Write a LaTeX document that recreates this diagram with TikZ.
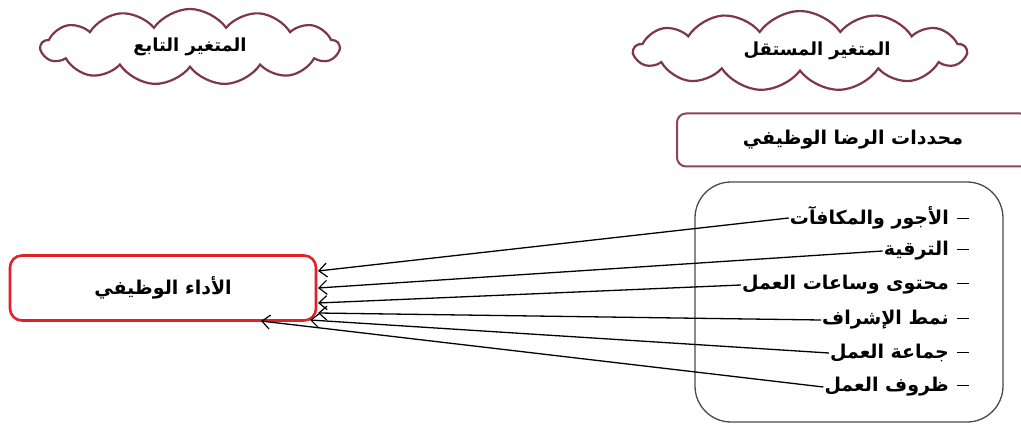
\documentclass[tikz,border=0pt]{standalone}
\usepackage{fontspec}
\newfontfamily\arabicfont[Script=Arabic]{DejaVu Sans}
\TeXXeTstate=1
\usetikzlibrary{shapes.symbols,arrows.meta}
\definecolor{cloudcol}{RGB}{125,55,70}
\definecolor{detcol}{RGB}{140,70,85}
\definecolor{perfcol}{RGB}{225,32,42}
\definecolor{listcol}{RGB}{75,75,75}
\newcommand{\ar}[1]{{\arabicfont\bfseries\beginR #1\endR}}
\newcommand{\itm}[1]{{\arabicfont\beginR\rule[5.5pt]{12pt}{1.1pt}\hspace{8pt}{\bfseries #1}\endR}}
\tikzset{
  cloudbox/.style={shape=cloud, cloud puffs=13, cloud puff arc=110, cloud ignores aspect,
    draw=cloudcol, line width=2.2pt, fill=white, font=\fontsize{18}{20}\selectfont, inner sep=0pt},
  detbox/.style={draw=detcol, line width=2pt, rounded corners=9pt, font=\fontsize{19}{21}\selectfont},
  listbox/.style={draw=listcol, line width=1.3pt, rounded corners=36pt},
  perfbox/.style={draw=perfcol, line width=2.6pt, rounded corners=12pt, font=\fontsize{19}{21}\selectfont},
  itembox/.style={anchor=east, inner sep=1pt, font=\fontsize{19}{21}\selectfont},
  conn/.style={line width=1.3pt, -{Straight Barb[length=8pt,width=14pt,line width=1.2pt]}}
}
\begin{document}
\begin{tikzpicture}[x=1pt,y=-1pt]
\useasboundingbox (0,0) rectangle (1021,425);
\clip (0,0) rectangle (1021,425);
\fill[white] (0,0) rectangle (1021,425);
% clouds
\node[cloudbox, minimum width=298pt, minimum height=76pt] (dep) at (190,47) {\ar{المتغير التابع}};
\node[cloudbox, minimum width=332pt, minimum height=80pt] (indep) at (800,51) {\hspace*{34pt}\ar{المتغير المستقل}};
% determinants box
\node[detbox, minimum width=352pt, minimum height=53pt] (det) at (853,140) {\ar{محددات الرضا الوظيفي}};
% list box
\node[listbox, minimum width=308pt, minimum height=240pt] (list) at (849,302) {};
% performance box
\node[perfbox, minimum width=306pt, minimum height=65pt] (perf) at (163,288) {\ar{الأداء الوظيفي}};
% items
\node[itembox] (i1) at (970,218) {\itm{الأجور والمكافآت}};
\node[itembox] (i2) at (970,251) {\itm{الترقية}};
\node[itembox] (i3) at (970,285) {\itm{محتوى وساعات العمل}};
\node[itembox] (i4) at (970,320) {\itm{نمط الإشراف}};
\node[itembox] (i5) at (970,353) {\itm{جماعة العمل}};
\node[itembox] (i6) at (970,387) {\itm{ظروف العمل}};
% arrow end points on the performance box
\coordinate (a1) at (318,271);
\coordinate (a2) at (318,288);
\coordinate (a3) at (318,303);
\coordinate (a4) at (318,313);
\coordinate (a5) at (310,320);
\coordinate (a6) at (261,321);
\draw[conn] (i1.west) -- (a1);
\draw[conn] (i2.west) -- (a2);
\draw[conn] (i3.west) -- (a3);
\draw[conn] (i4.west) -- (a4);
\draw[conn] (i5.west) -- (a5);
\draw[conn] (i6.west) -- (a6);
\end{tikzpicture}
\end{document}
